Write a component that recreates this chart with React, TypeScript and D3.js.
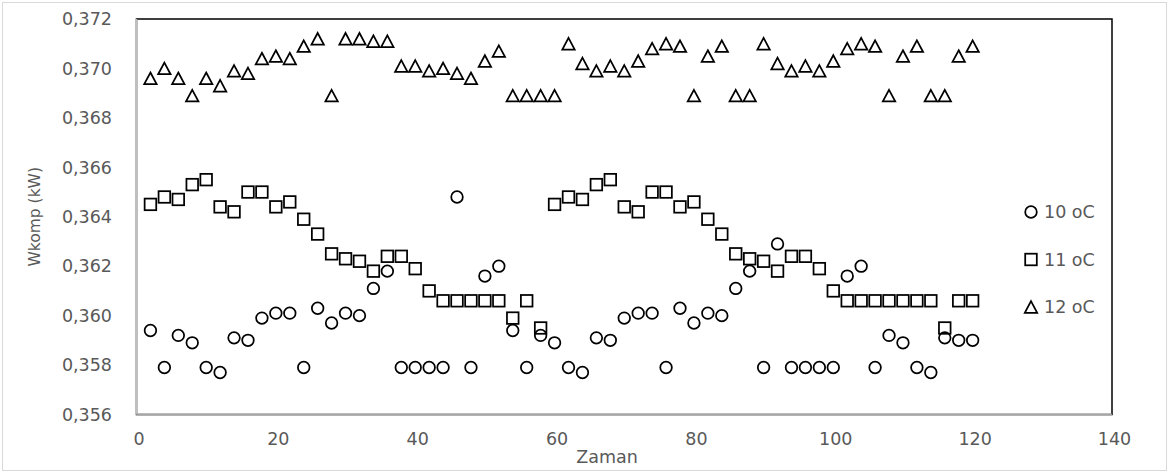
import React from 'react';
import * as d3 from 'd3';

// Sampling times (Zaman)
const zaman = [
  2, 4, 6, 8, 10, 12, 14, 16, 18, 20, 22, 24, 26, 28, 30, 32, 34, 36, 38, 40,
  42, 44, 46, 48, 50, 52, 54, 56, 58, 60, 62, 64, 66, 68, 70, 72, 74, 76, 78, 80,
  82, 84, 86, 88, 90, 92, 94, 96, 98, 100, 102, 104, 106, 108, 110, 112, 114, 116, 118, 120,
];

// Compressor power (kW) at 10 oC
const w10 = [
  0.3594, 0.3579, 0.3592, 0.3589, 0.3579, 0.3577, 0.3591, 0.359, 0.3599, 0.3601,
  0.3601, 0.3579, 0.3603, 0.3597, 0.3601, 0.36, 0.3611, 0.3618, 0.3579, 0.3579,
  0.3579, 0.3579, 0.3648, 0.3579, 0.3616, 0.362, 0.3594, 0.3579, 0.3592, 0.3589,
  0.3579, 0.3577, 0.3591, 0.359, 0.3599, 0.3601, 0.3601, 0.3579, 0.3603, 0.3597,
  0.3601, 0.36, 0.3611, 0.3618, 0.3579, 0.3629, 0.3579, 0.3579, 0.3579, 0.3579,
  0.3616, 0.362, 0.3579, 0.3592, 0.3589, 0.3579, 0.3577, 0.3591, 0.359, 0.359,
];

// Compressor power (kW) at 11 oC
const w11 = [
  0.3645, 0.3648, 0.3647, 0.3653, 0.3655, 0.3644, 0.3642, 0.365, 0.365, 0.3644,
  0.3646, 0.3639, 0.3633, 0.3625, 0.3623, 0.3622, 0.3618, 0.3624, 0.3624, 0.3619,
  0.361, 0.3606, 0.3606, 0.3606, 0.3606, 0.3606, 0.3599, 0.3606, 0.3595, 0.3645,
  0.3648, 0.3647, 0.3653, 0.3655, 0.3644, 0.3642, 0.365, 0.365, 0.3644, 0.3646,
  0.3639, 0.3633, 0.3625, 0.3623, 0.3622, 0.3618, 0.3624, 0.3624, 0.3619, 0.361,
  0.3606, 0.3606, 0.3606, 0.3606, 0.3606, 0.3606, 0.3606, 0.3595, 0.3606, 0.3606,
];

// Compressor power (kW) at 12 oC
const w12 = [
  0.3696, 0.37, 0.3696, 0.3689, 0.3696, 0.3693, 0.3699, 0.3698, 0.3704, 0.3705,
  0.3704, 0.3709, 0.3712, 0.3689, 0.3712, 0.3712, 0.3711, 0.3711, 0.3701, 0.3701,
  0.3699, 0.37, 0.3698, 0.3696, 0.3703, 0.3707, 0.3689, 0.3689, 0.3689, 0.3689,
  0.371, 0.3702, 0.3699, 0.3701, 0.3699, 0.3703, 0.3708, 0.371, 0.3709, 0.3689,
  0.3705, 0.3709, 0.3689, 0.3689, 0.371, 0.3702, 0.3699, 0.3701, 0.3699, 0.3703,
  0.3708, 0.371, 0.3709, 0.3689, 0.3705, 0.3709, 0.3689, 0.3689, 0.3705, 0.3709,
];

const seriesNames = ['10 oC', '11 oC', '12 oC'];
const xTicks = [0, 20, 40, 60, 80, 100, 120, 140];
const yTicks = [0.356, 0.358, 0.36, 0.362, 0.364, 0.366, 0.368, 0.37, 0.372];

const W = 1169;
const H = 473;
const plot = { left: 136.5, right: 1112, top: 19, bottom: 414.5 };

const FONT = '"DejaVu Sans", sans-serif';
const TEXT = '#595959';
const INK = '#000000';
const SW = 1.75;

const trLocale = d3.formatLocale({ decimal: ',', thousands: '.', grouping: [3], currency: ['', ''] });
const fmtY = trLocale.format('.3f');

type Shape = 'circle' | 'square' | 'triangle';

function Marker({ shape, cx, cy }: { shape: Shape; cx: number; cy: number }) {
  if (shape === 'circle') {
    return <circle cx={cx} cy={cy} r={5.8} fill="none" stroke={INK} strokeWidth={SW} />;
  }
  if (shape === 'square') {
    const s = 11.6;
    return <rect x={cx - s / 2} y={cy - s / 2} width={s} height={s} fill="none" stroke={INK} strokeWidth={SW} />;
  }
  const w = 12.4;
  const h = 11.6;
  const d = `M${cx},${cy - h / 2}L${cx + w / 2},${cy + h / 2}L${cx - w / 2},${cy + h / 2}Z`;
  return <path d={d} fill="none" stroke={INK} strokeWidth={SW} strokeLinejoin="miter" />;
}

export default function App() {
  const x = d3.scaleLinear().domain([0, 140]).range([plot.left, plot.right]);
  const y = d3.scaleLinear().domain([0.356, 0.372]).range([plot.bottom, plot.top]);

  const series: { name: string; values: number[]; shape: Shape }[] = [
    { name: seriesNames[0], values: w10, shape: 'circle' },
    { name: seriesNames[1], values: w11, shape: 'square' },
    { name: seriesNames[2], values: w12, shape: 'triangle' },
  ];

  const legendY = [212, 259.5, 307];

  return (
    <svg
      width={W}
      height={H}
      viewBox={`0 0 ${W} ${H}`}
      style={{ position: 'absolute', left: 0, top: 0, background: '#fff' }}
    >
      {/* chart frame */}
      <rect x={2.5} y={2.5} width={W - 5} height={H - 5} fill="#fff" stroke="#d9d9d9" strokeWidth={1} />

      {/* plot area */}
      <rect
        x={plot.left}
        y={plot.top}
        width={plot.right - plot.left}
        height={plot.bottom - plot.top}
        fill="none"
        stroke={INK}
        strokeWidth={1.5}
      />
      <line x1={plot.left} x2={plot.left} y1={plot.top} y2={plot.bottom} stroke="#bfbfbf" strokeWidth={1.75} />
      <line x1={plot.left} x2={plot.right} y1={plot.bottom} y2={plot.bottom} stroke="#a6a6a6" strokeWidth={1.75} />

      {/* y axis labels */}
      {yTicks.map((t) => (
        <text
          key={t}
          x={112}
          y={y(t)}
          dy="0.36em"
          textAnchor="end"
          fontFamily={FONT}
          fontSize={17.5}
          fill={TEXT}
        >
          {fmtY(t)}
        </text>
      ))}

      {/* x axis labels */}
      {xTicks.map((t) => (
        <text
          key={t}
          x={x(t) + 2.5}
          y={439}
          dy="0.36em"
          textAnchor="middle"
          fontFamily={FONT}
          fontSize={17.5}
          fill={TEXT}
        >
          {t}
        </text>
      ))}

      {/* axis titles */}
      <text x={607} y={457} dy="0.36em" textAnchor="middle" fontFamily={FONT} fontSize={17.5} fill={TEXT}>
        Zaman
      </text>
      <text
        transform={`translate(34,${(plot.top + plot.bottom) / 2}) rotate(-90)`}
        dy="0.36em"
        textAnchor="middle"
        fontFamily={FONT}
        fontSize={15.5}
        fill={TEXT}
      >
        Wkomp (kW)
      </text>

      {/* points */}
      {series.map((s) => (
        <g key={s.name}>
          {s.values.map((v, i) => (
            <Marker key={i} shape={s.shape} cx={x(zaman[i])} cy={y(v)} />
          ))}
        </g>
      ))}

      {/* legend */}
      {series.map((s, i) => (
        <g key={s.name}>
          <Marker shape={s.shape} cx={1031} cy={legendY[i]} />
          <text x={1044} y={legendY[i]} dy="0.36em" fontFamily={FONT} fontSize={17.5} fill={TEXT}>
            {s.name}
          </text>
        </g>
      ))}
    </svg>
  );
}
